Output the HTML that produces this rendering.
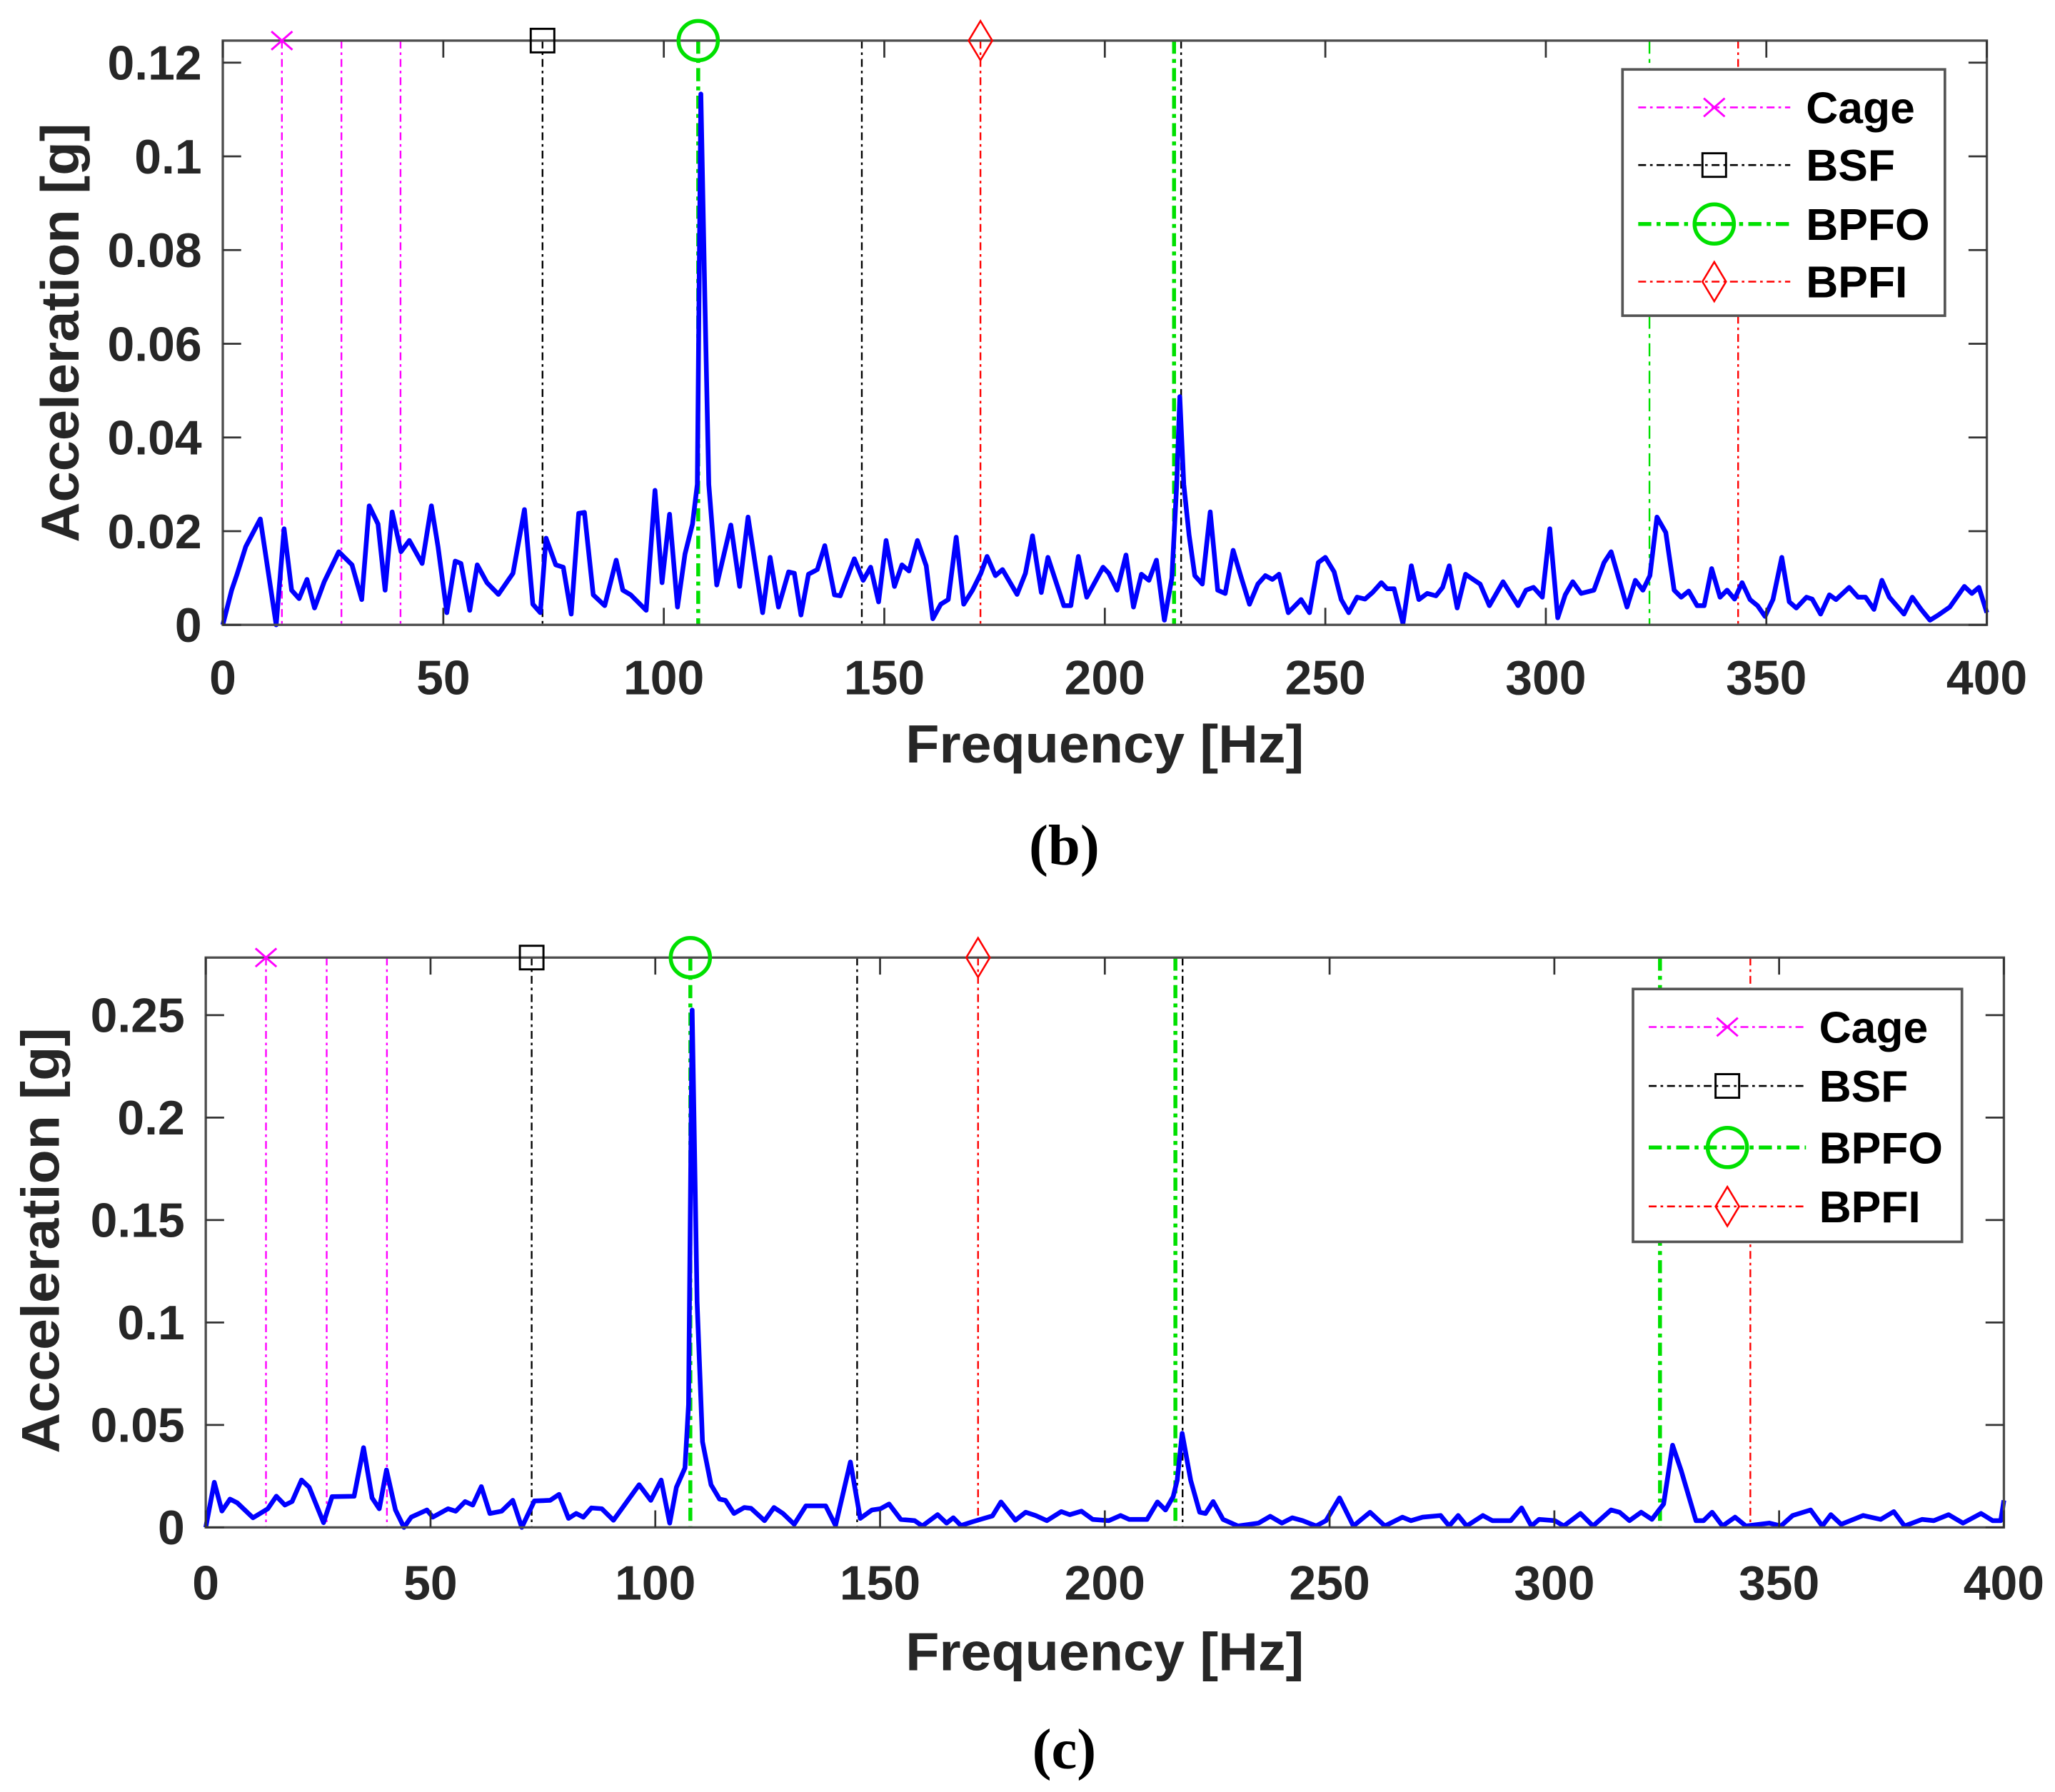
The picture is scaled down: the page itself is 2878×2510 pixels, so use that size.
<!DOCTYPE html>
<html><head><meta charset="utf-8"><style>
html,body{margin:0;padding:0;background:#fff}
svg{display:block}
text{font-family:"Liberation Sans",Arial,sans-serif;font-weight:bold;fill:#262626}
</style></head><body>
<svg id="fig" width="2878" height="2510" viewBox="0 0 1568 1368" preserveAspectRatio="none" xmlns="http://www.w3.org/2000/svg">
<rect x="0" y="0" width="1568" height="1368" fill="#fff"/>
</svg>
<script>
// ---- Data: panel (b) ----
const bFreq = [0,2,3.3,5.2,8.5,12.1,13.9,15.6,17.3,19.1,20.8,23,26.3,29.3,31.5,33.2,35.2,36.8,38.4,40.4,42.3,45.2,47.3,48.8,50.8,52.7,54,56,57.7,59.9,62.5,65.8,68.4,70.3,72,73.3,75.5,77.2,79,80.7,82,84,86.6,89.2,90.7,92.5,96,98,99.6,101.3,103.1,104.8,106.5,107.6,108.4,109.3,110.2,112,115.2,117.2,119.1,122.4,124.1,126,128.3,129.6,131.1,132.8,134.8,136.5,138.7,140,143.2,145.2,146.9,148.7,150.4,152.3,154,155.6,157.5,159.5,161,162.8,164.5,166.3,168,170,171.9,173.3,175.2,176.8,180.1,182,183.6,185.6,187.1,190.7,192.3,194,195.9,199.6,200.9,202.8,204.8,206.5,208.3,210,211.7,213.5,215.2,216.3,217,217.9,219.1,220.4,222.1,223.9,225.6,227.3,229.1,230.8,232.8,234.7,236.4,238,239.5,241.6,244.5,246.4,248.4,250,252,253.6,255.3,257.2,259,260.7,262.7,264,265.6,267.6,269.5,271.2,273.1,275.1,276.6,278.1,279.9,281.8,283.5,285.1,287.2,290.3,293.7,295.5,297.2,299.2,300.9,302.7,304.4,306.1,308,310.9,313.2,314.8,318.4,320.3,322,323.6,325.2,327.2,329.1,330.7,332.4,334.3,335.9,337.6,339.5,341.1,342.8,344.5,346.3,348,349.7,351.5,353.5,355.2,356.8,359.1,360.4,362.3,364.3,365.8,368.8,370.8,372.5,374.4,376.2,377.9,381.2,383.1,385.1,387.1,389,391.6,394.9,396.6,398.2,400];
const bAccel = [0,0.0074,0.011,0.0167,0.0226,0,0.0205,0.0074,0.0056,0.0097,0.0036,0.0092,0.0156,0.0128,0.0054,0.0254,0.0215,0.0074,0.0241,0.0156,0.018,0.0131,0.0254,0.0167,0.0026,0.0136,0.0131,0.0031,0.0128,0.009,0.0065,0.011,0.0246,0.0044,0.0026,0.0185,0.0128,0.0123,0.0023,0.0238,0.024,0.0064,0.0041,0.0138,0.0074,0.0064,0.0031,0.0287,0.009,0.0236,0.0038,0.0151,0.0215,0.03,0.1133,0.07,0.03,0.0085,0.0213,0.0082,0.023,0.0026,0.0144,0.0038,0.0113,0.011,0.0021,0.0108,0.0118,0.0169,0.0064,0.0062,0.0141,0.0095,0.0123,0.0049,0.018,0.0082,0.0128,0.0115,0.018,0.0126,0.0013,0.0044,0.0054,0.0187,0.0044,0.0074,0.011,0.0146,0.0105,0.0118,0.0065,0.011,0.019,0.0069,0.0144,0.0041,0.0041,0.0146,0.0059,0.0123,0.011,0.0074,0.0149,0.0038,0.0108,0.0095,0.0138,0.001,0.01,0.03,0.0487,0.03,0.0192,0.0105,0.0087,0.0241,0.0074,0.0067,0.0159,0.0105,0.0044,0.0087,0.0105,0.0097,0.0108,0.0026,0.0054,0.0026,0.0133,0.0144,0.0113,0.0054,0.0026,0.0059,0.0055,0.0069,0.009,0.0077,0.0077,0.0003,0.0126,0.0054,0.0067,0.0062,0.008,0.0126,0.0036,0.0108,0.0097,0.0087,0.0041,0.0092,0.0041,0.0074,0.008,0.0059,0.0205,0.0015,0.0064,0.0092,0.0067,0.0074,0.0133,0.0156,0.0038,0.0095,0.0074,0.0105,0.023,0.0197,0.0074,0.0059,0.0072,0.0041,0.0041,0.012,0.0059,0.0074,0.0055,0.009,0.0054,0.0041,0.0018,0.0054,0.0144,0.0049,0.0036,0.0059,0.0055,0.0023,0.0064,0.0054,0.008,0.0059,0.0059,0.0033,0.0095,0.0059,0.0023,0.0059,0.0033,0.001,0.0021,0.0038,0.0082,0.0067,0.008,0.0026];
const bYTicks = [0,0.02,0.04,0.06,0.08,0.1,0.12];
const bYTickLabels = ["0","0.02","0.04","0.06","0.08","0.1","0.12"];

// ---- Data: panel (c) ----
const cFreq = [0,1.9,3.6,5.4,7,10.5,13.8,15.7,17.6,19.2,21.3,23,26.2,28.1,33,35.1,37,38.6,40.2,42.2,44.1,45.7,49.2,50.5,53.9,55.6,57.7,59.4,61.3,63.2,65.8,68.3,70.3,73.1,76.6,78.6,80.7,82.4,84,85.8,88.1,90.7,96.4,99,101.3,103.2,104.7,106.6,107.4,108.2,109.3,110.5,112.4,114.3,115.6,117.5,119.8,121.3,124.3,126.4,128.4,130.9,133.5,137.9,140.1,143.4,145.6,148.2,150.1,152,154.6,157.7,159.4,162.8,164.8,166.3,168,170.5,173.1,175,176.9,180.1,182.4,184.6,187.1,190.3,192.2,194.8,197.3,200.9,203.5,205.4,209.4,211.7,213.5,215.2,216.1,217.2,219.1,221.1,222.4,224.1,226.3,229.6,234.2,236.8,239.4,241.7,244,247,249.2,252.2,255.3,259,262.3,266.2,268.1,270.7,274.7,276.6,278.6,280.5,284.1,286.2,290.3,292.7,294.9,296.6,300.1,302.1,305.8,308.6,312.6,314.5,316.7,319.3,321.7,324.3,326.3,328.2,331.5,333.2,335.1,337.4,340.2,342.6,347.8,350.4,353,357,359.6,361.5,363.8,368.7,372.6,375.5,377.9,381.8,384.4,387.7,390.9,394.9,397.5,399.3,400];
const cAccel = [0,0.022,0.008,0.0138,0.012,0.0047,0.0091,0.0152,0.0109,0.0126,0.0231,0.0196,0.0023,0.015,0.0152,0.0389,0.0144,0.0091,0.028,0.0085,0,0.005,0.0085,0.005,0.0091,0.0079,0.0126,0.0109,0.0199,0.0068,0.0079,0.0132,0,0.0129,0.0132,0.0161,0.0044,0.0068,0.005,0.0095,0.0091,0.0035,0.0208,0.0132,0.0231,0.0021,0.0196,0.029,0.06,0.2525,0.11,0.0418,0.0208,0.0138,0.0132,0.0068,0.0097,0.0093,0.0033,0.0097,0.0068,0.0015,0.0105,0.0105,0.0009,0.0319,0.0044,0.0085,0.0091,0.0114,0.0039,0.0033,0.0007,0.0062,0.0021,0.0047,0.0009,0.0027,0.0044,0.0056,0.0124,0.0035,0.0074,0.0058,0.0033,0.0077,0.0062,0.0079,0.0039,0.0033,0.0058,0.0039,0.0039,0.0124,0.0085,0.015,0.023,0.0459,0.023,0.0074,0.0068,0.0126,0.0039,0.0007,0.0021,0.0054,0.0021,0.0047,0.0033,0.0007,0.0033,0.0144,0.0007,0.0074,0.0007,0.005,0.0033,0.005,0.0058,0.0007,0.0058,0.0007,0.0058,0.0033,0.0033,0.0095,0.0007,0.0039,0.0033,0.0007,0.0068,0.0007,0.0085,0.0074,0.0033,0.0074,0.0039,0.0114,0.0401,0.0278,0.0033,0.0033,0.0074,0.0007,0.005,0.0007,0.0021,0.0007,0.0058,0.0085,0.0007,0.0062,0.0015,0.0058,0.0039,0.0077,0.0007,0.0039,0.0033,0.0062,0.0021,0.0068,0.0033,0.0033,0.0132];
const cYTicks = [0,0.05,0.1,0.15,0.2,0.25];
const cYTickLabels = ["0","0.05","0.1","0.15","0.2","0.25"];

// ---- Shared ----
const xTicks = [0,50,100,150,200,250,300,350,400];
const xTickLabels = ["0","50","100","150","200","250","300","350","400"];
const cageFreqs = [13.4,26.9,40.3];
const bsfFreqs = [72.5,144.9,217.3];
const bpfoFreqs = [107.8,215.7,323.5];
const bpfiFreqs = [171.8,343.6];
const legendLabels = ["Cage","BSF","BPFO","BPFI"];

const NS = "http://www.w3.org/2000/svg";
const svg = document.getElementById('fig');
function mk(tag, attrs, parent){
  const e = document.createElementNS(NS, tag);
  for (const k in attrs) e.setAttribute(k, attrs[k]);
  (parent||svg).appendChild(e);
  return e;
}
const styles = {
  cage:{stroke:"#ff00ff", dash:"6 3 2 3"},
  bsf:{stroke:"#000000", dash:"6 3 2 3"},
  bpfo:{stroke:"#00e000", dash:"10 4 3 4"},
  bpfi:{stroke:"#ff0000", dash:"6 3 2 3"}
};
function marker(kind, x, y, g){
  let e;
  if (kind==="cage"){
    e = mk('path',{d:`M${x-8},${y-7}L${x+8},${y+7}M${x-8},${y+7}L${x+8},${y-7}`,stroke:"#ff00ff","stroke-width":1.6,fill:"none"},g);
  } else if (kind==="bsf"){
    e = mk('rect',{x:x-9,y:y-9,width:18,height:18,stroke:"#000","stroke-width":1.6,fill:"none"},g);
  } else if (kind==="bpfo"){
    e = mk('circle',{cx:x,cy:y,r:15,stroke:"#00e000","stroke-width":3,fill:"none"},g);
  } else {
    e = mk('path',{d:`M${x},${y-15}L${x+9},${y}L${x},${y+15}L${x-9},${y}Z`,stroke:"#ff0000","stroke-width":1.4,fill:"none"},g);
  }
  
  
  return e;
}

function drawPanel(P){
  const g = mk('g',{});
  
  
  const X = f => P.L + (f/400)*(P.R-P.L);
  const Y = v => P.B - (v/P.ymax)*(P.B-P.T);

  const groups = [["cage",cageFreqs],["bsf",bsfFreqs],["bpfo",bpfoFreqs],["bpfi",bpfiFreqs]];
  groups.forEach(([k,arr])=>{
    arr.forEach((f,i)=>{
      const w = (k==="bpfo") ? P.bpfoW[i] : 1.3;
      const ln = mk('line',{x1:X(f),x2:X(f),y1:P.T,y2:P.B,stroke:styles[k].stroke,"stroke-width":w,"stroke-dasharray":styles[k].dash},g);
      
      
    });
  });

  let d = "";
  P.freq.forEach((f,i)=>{ d += (i?"L":"M") + X(f).toFixed(2) + "," + Y(P.val[i]).toFixed(2); });
  const sp = mk('path',{d:d,fill:"none",stroke:"#0000ff","stroke-width":3.6,"stroke-linejoin":"round"},g);
  
  

  const box = mk('rect',{x:P.L,y:P.T,width:P.R-P.L,height:P.B-P.T,fill:"none",stroke:"#4d4d4d","stroke-width":1.8},g);
  
  

  xTicks.forEach((t,i)=>{
    const x = X(t);
    mk('line',{x1:x,x2:x,y1:P.B,y2:P.B-13,stroke:"#333","stroke-width":1.5},g);
    mk('line',{x1:x,x2:x,y1:P.T,y2:P.T+13,stroke:"#333","stroke-width":1.5},g);
    const tx = mk('text',{x:x,y:P.xLabY,"text-anchor":"middle","font-size":37},g);
    tx.textContent = xTickLabels[i];
    
    
  });
  P.yt.forEach((t,i)=>{
    const y = Y(t);
    mk('line',{x1:P.L,x2:P.L+14,y1:y,y2:y,stroke:"#333","stroke-width":1.5},g);
    mk('line',{x1:P.R,x2:P.R-14,y1:y,y2:y,stroke:"#333","stroke-width":1.5},g);
    const tx = mk('text',{x:P.L-16,y:y+13,"text-anchor":"end","font-size":37},g);
    tx.textContent = P.ytl[i];
    
    
  });

  marker("cage", X(cageFreqs[0]), P.T, g);
  marker("bsf", X(bsfFreqs[0]), P.T, g);
  marker("bpfo", X(bpfoFreqs[0]), P.T, g);
  marker("bpfi", X(bpfiFreqs[0]), P.T, g);

  const xt = mk('text',{x:P.xTitleX,y:P.xTitleY,"text-anchor":"middle","font-size":41,textLength:304,lengthAdjust:"spacingAndGlyphs"},g);
  xt.textContent = "Frequency [Hz]";
  
  
  const yt = mk('text',{x:0,y:0,"text-anchor":"middle","font-size":41,textLength:P.yTitleLen,lengthAdjust:"spacingAndGlyphs",transform:`translate(${P.yTitleX},${P.yTitleCY}) rotate(-90)`},g);
  yt.textContent = "Acceleration [g]";
  
  

  const lg = mk('g',{},g);
  
  
  mk('rect',{x:P.lg.x,y:P.lg.y,width:P.lg.w,height:P.lg.h,fill:"#fff",stroke:"#555","stroke-width":2},lg);
  ["cage","bsf","bpfo","bpfi"].forEach((k,i)=>{
    const yy = P.lg.rows[i];
    const ln = mk('line',{x1:P.lg.x1,x2:P.lg.x2,y1:yy,y2:yy,stroke:styles[k].stroke,"stroke-width":k==="bpfo"?3:1.4,"stroke-dasharray":styles[k].dash},lg);
    
    
    marker(k, (P.lg.x1+P.lg.x2)/2, yy, lg);
    const tx = mk('text',{x:P.lg.tx,y:yy+12,"font-size":34},lg);
    tx.setAttribute('style','fill:#000');
    tx.textContent = legendLabels[i];
    
    
  });

  const cap = mk('text',{x:812,y:P.capY,"text-anchor":"middle","font-size":44},g);
  cap.setAttribute('style','font-family:"Liberation Serif",serif;font-weight:bold;fill:#000');
  cap.textContent = P.caption;
  
  
}

drawPanel({name:"panel-b", L:170, R:1516, T:31, B:477, ymax:0.1247,
  freq:bFreq, val:bAccel, yt:bYTicks, ytl:bYTickLabels, bpfoW:[3,3,1.3],
  xLabY:530, xTitleX:843, xTitleY:582, yTitleX:60, yTitleCY:254, yTitleLen:320,
  lg:{x:1238,y:53,w:246,h:188,rows:[82,126,171,215],x1:1250,x2:1366,tx:1378},
  capY:660, caption:"(b)"});

drawPanel({name:"panel-c", L:157, R:1529, T:731, B:1166, ymax:0.2781,
  freq:cFreq, val:cAccel, yt:cYTicks, ytl:cYTickLabels, bpfoW:[3,3,3],
  xLabY:1221, xTitleX:843, xTitleY:1275, yTitleX:45, yTitleCY:947, yTitleLen:325,
  lg:{x:1246,y:755,w:251,h:193,rows:[784,829,876,921],x1:1258,x2:1378,tx:1388},
  capY:1350, caption:"(c)"});
</script>
</body></html>
